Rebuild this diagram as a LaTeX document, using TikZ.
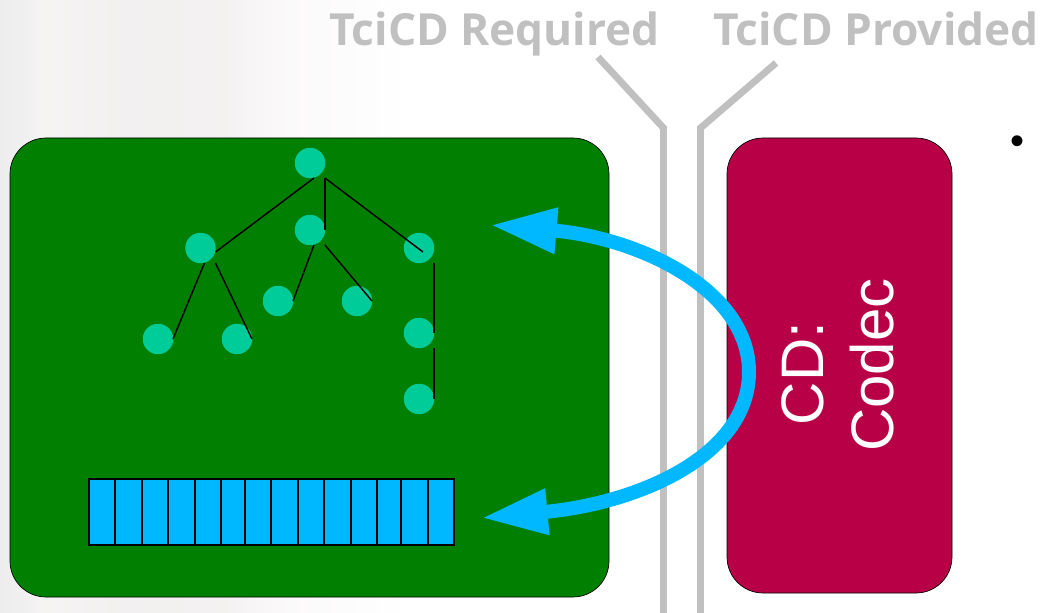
\documentclass[tikz,border=0pt]{standalone}
\usepackage{fontspec}
\setmainfont{Liberation Sans}
\newfontfamily\titlefont{Open Sans}
\usetikzlibrary{calc,arrows.meta}
\definecolor{gblue}{HTML}{00B8FF}
\definecolor{leaf}{HTML}{00CC99}
\definecolor{gbox}{HTML}{007F00}
\definecolor{rbox}{HTML}{B80046}
\definecolor{lgray}{HTML}{C0C0C0}
\pgfdeclarehorizontalshading{bgfade}{100bp}{
 rgb(0bp)=(.93,.93,.93);
 rgb(25bp)=(.93,.93,.93);
 rgb(28bp)=(.94,.94,.94);
 rgb(30bp)=(.965,.955,.955);
 rgb(40bp)=(.95,.94,.94);
 rgb(52bp)=(.955,.945,.945);
 rgb(60bp)=(.985,.978,.978);
 rgb(75bp)=(1,1,1);
 rgb(100bp)=(1,1,1)
}
\tikzset{
 x=.75pt,y=-.75pt,
 leafnode/.style={circle,fill=leaf,inner sep=0pt,minimum size=22.8pt},
 edge/.style={draw=black,line width=1.1pt},
 bigbox/.style={draw=black,line width=.5pt,rounded corners=27pt,inner sep=0pt},
 wire/.style={draw=lgray,line width=5.2pt,miter limit=10},
 titletext/.style={font=\titlefont\bfseries\fontsize{33.2}{38}\selectfont,text=lgray,inner sep=0pt,anchor=base},
 cell/.style={draw=black,line width=1.3pt,fill=gblue},
 flow/.style={draw=gblue,line width=10.5pt,{Triangle[length=50pt,width=32pt]}-{Triangle[length=50pt,width=32pt]}}
}
\begin{document}
\begin{tikzpicture}
\useasboundingbox (0,0) rectangle (1043,613);
\shade[shading=bgfade] (0,0) rectangle (410,613);
\node[titletext] (req) at (494.5,45.5) {TciCD Required};
\node[titletext] (prov) at (876,45.5) {TciCD Provided};
\node[bigbox,fill=gbox,minimum width=449.25pt,minimum height=344.25pt] (comp) at (309.5,367.5) {};
\node[bigbox,fill=rbox,minimum width=168.75pt,minimum height=341.25pt] (codec) at (839.5,365.5) {};
\coordinate (wa) at (598,57);
\coordinate (wb) at (663.5,128);
\coordinate (wc) at (663.5,613);
\coordinate (wd) at (776,63);
\coordinate (we) at (700.5,128);
\coordinate (wf) at (700.5,613);
\draw[wire] (wa) -- (wb) -- (wc);
\draw[wire] (wd) -- (we) -- (wf);
\node[leafnode] (root) at (310,163) {};
\node[leafnode] (a) at (200.5,248) {};
\node[leafnode] (b) at (310,230) {};
\node[leafnode] (c) at (419,248) {};
\node[leafnode] (a1) at (158,339) {};
\node[leafnode] (a2) at (237,339) {};
\node[leafnode] (b1) at (278,301) {};
\node[leafnode] (b2) at (357,301) {};
\node[leafnode] (c1) at (419,333) {};
\node[leafnode] (c2) at (419,399) {};
\draw[edge] ($(root)+(4,15)$) -- ($(a)+(15,4)$);
\draw[edge] ($(root)+(15,15)$) -- ($(b)+(15,0)$);
\draw[edge] ($(root)+(15,15)$) -- ($(c)+(4,4)$);
\draw[edge] ($(a)+(4,15)$) -- ($(a1)+(15,0)$);
\draw[edge] ($(a)+(15,15)$) -- ($(a2)+(15,0)$);
\draw[edge] ($(b)+(4,15)$) -- ($(b1)+(15,0)$);
\draw[edge] ($(b)+(15,15)$) -- ($(b2)+(15,0)$);
\draw[edge] ($(c)+(15,15)$) -- ($(c1)+(15,0)$);
\draw[edge] ($(c1)+(15,15)$) -- ($(c2)+(15,0)$);
\foreach \l/\r [count=\i] in {88.7/115.3,115.3/142,142/168.3,168.3/194.7,194.7/221,221/245,245/271.3,271.3/297.7,297.7/324,324/350.7,350.7/377,377/401,401/427.7,427.7/454}{
  \draw[cell] (\l,479) rectangle (\r,545);
}
\coordinate (tipa) at (490,225);
\coordinate (apex) at (749,372);
\coordinate (tipb) at (481,518);
\draw[flow] (tipa) .. controls (640,238) and (749,290) .. (apex) .. controls (749,455) and (640,503) .. (tipb);
\node[text=white,rotate=90,align=center,font=\fontsize{45}{52.5}\selectfont,inner sep=0pt] (label) at (838,365) {CD:\rule{.278em}{0pt}\\Codec};
\node[font=\fontsize{30}{30}\selectfont,inner sep=0pt] (dot) at (1017,145.5) {•};
\end{tikzpicture}
\end{document}
